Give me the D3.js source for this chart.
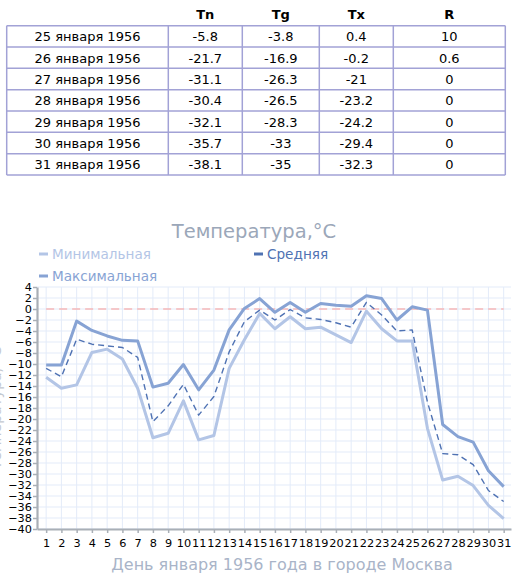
<!DOCTYPE html>
<html>
<head>
<meta charset="utf-8">
<script src="https://cdn.jsdelivr.net/npm/d3@7"></script>
<style>
  body { margin: 0; background: #fff; }
  svg { display: block; font-family: "DejaVu Sans", Verdana, sans-serif; }
</style>
</head>
<body>
<div id="chart"></div>
<script>
// ---- data ----
const days = [1,2,3,4,5,6,7,8,9,10,11,12,13,14,15,16,17,18,19,20,21,22,23,24,25,26,27,28,29,30,31];
const tMin = [-12.4,-14.4,-13.8,-7.9,-7.3,-9.1,-14.4,-23.4,-22.6,-16.7,-23.8,-23.0,-10.8,-5.6,-0.8,
              -3.6,-1.4,-3.6,-3.3,-4.7,-6.1,-0.4,-3.6,-5.8,-5.8,-21.7,-31.1,-30.4,-32.1,-35.7,-38.1];
const tMean = [-10.8,-12.3,-5.5,-6.4,-6.7,-7.0,-8.8,-20.5,-17.6,-13.7,-19.3,-15.9,-7.8,-2.3,-0.2,
               -2.0,-0.1,-1.6,-1.9,-2.5,-3.3,1.2,-1.1,-4.0,-3.8,-16.9,-26.3,-26.5,-28.3,-33,-35];
const tMax = [-10.2,-10.2,-2.2,-3.9,-4.9,-5.7,-5.8,-14.2,-13.5,-10.1,-14.7,-11.1,-3.8,0.1,1.9,
              -0.6,1.2,-0.6,1.0,0.7,0.5,2.4,1.9,-2.0,0.4,-0.2,-21,-23.2,-24.2,-29.4,-32.3];
const yTicks = [4,2,0,-2,-4,-6,-8,-10,-12,-14,-16,-18,-20,-22,-24,-26,-28,-30,-32,-34,-36,-38,-40];

// table
const tableHeaders = ["", "Tn", "Tg", "Tx", "R"];
const tableDates = ["25 января 1956","26 января 1956","27 января 1956","28 января 1956",
                    "29 января 1956","30 января 1956","31 января 1956"];
const tableDays = [25,26,27,28,29,30,31];
const precip = [10, 0.6, 0, 0, 0, 0, 0];

const W = 516, H = 578;
const svg = d3.select("#chart").append("svg")
  .attr("width", W).attr("height", H);

// ---- table ----
const colEdges = [6.7, 168.3, 242.3, 319.3, 393.3, 505.3];
const colMid = i => (colEdges[i] + colEdges[i + 1]) / 2;
const rowTop = 25.7, rowH = 21.33;
const tbl = svg.append("g");

tbl.selectAll("text.hdr")
  .data(tableHeaders)
  .enter().append("text")
  .attr("class", "hdr")
  .attr("x", (d, i) => colMid(i))
  .attr("y", 19)
  .attr("text-anchor", "middle")
  .attr("font-size", 13)
  .attr("font-weight", "bold")
  .attr("fill", "#000")
  .text(d => d);

const rows = tableDays.map((day, i) => {
  const k = days.indexOf(day);
  return [tableDates[i], tMin[k], tMean[k], tMax[k], precip[i]];
});

// borders
d3.range(rows.length + 1).forEach(r => {
  tbl.append("line")
    .attr("x1", colEdges[0]).attr("x2", colEdges[colEdges.length - 1])
    .attr("y1", rowTop + r * rowH).attr("y2", rowTop + r * rowH)
    .attr("stroke", "#a2a2d6").attr("stroke-width", 1.5);
});
colEdges.forEach(cx => {
  tbl.append("line")
    .attr("x1", cx).attr("x2", cx)
    .attr("y1", rowTop).attr("y2", rowTop + rows.length * rowH)
    .attr("stroke", "#a2a2d6").attr("stroke-width", 1.5);
});

rows.forEach((row, r) => {
  tbl.selectAll(null)
    .data(row)
    .enter().append("text")
    .attr("x", (d, i) => colMid(i))
    .attr("y", rowTop + r * rowH + 15.5)
    .attr("text-anchor", "middle")
    .attr("font-size", 13)
    .attr("fill", "#000")
    .text(d => String(d));
});

// ---- chart ----
const colorMin = "#b3c5e6";
const colorMean = "#4f72b3";
const colorMax = "#87a3d4";

const x = d3.scaleLinear().domain([0.4, 31.48]).range([37, 511]);
const y = d3.scaleLinear().domain([-40, 4]).range([529, 287]);

const g = svg.append("g");

// grid
g.selectAll("line.vgrid")
  .data(days)
  .enter().append("line")
  .attr("x1", d => x(d)).attr("x2", d => x(d))
  .attr("y1", y(4)).attr("y2", y(-40))
  .attr("stroke", "#e3ebf9").attr("stroke-width", 1);

g.selectAll("line.hgrid")
  .data(yTicks)
  .enter().append("line")
  .attr("x1", x.range()[0]).attr("x2", x.range()[1])
  .attr("y1", d => y(d)).attr("y2", d => y(d))
  .attr("stroke", "#e3ebf9").attr("stroke-width", 1);

// zero line
g.append("line")
  .attr("x1", x(days[0])).attr("x2", x(days[days.length - 1]))
  .attr("y1", y(0)).attr("y2", y(0))
  .attr("stroke", "#f6b8b8")
  .attr("stroke-width", 1.5)
  .attr("stroke-dasharray", "8,5");

// axes
const xAxis = g.append("g")
  .attr("transform", `translate(0,${y(-40)})`)
  .call(d3.axisBottom(x).tickValues(days).tickFormat(d3.format("d"))
    .tickSize(4).tickSizeOuter(0).tickPadding(6));
const yAxis = g.append("g")
  .attr("transform", `translate(${x.range()[0]},0)`)
  .call(d3.axisLeft(y).tickValues(yTicks).tickFormat(d3.format("d"))
    .tickSize(4).tickSizeOuter(0).tickPadding(1));

[xAxis, yAxis].forEach(a => {
  a.select(".domain").attr("stroke", "#a9afb6").attr("stroke-width", 2.2);
  a.selectAll(".tick line").attr("stroke", "#a9afb6").attr("stroke-width", 1.5);
  a.selectAll(".tick text")
    .attr("fill", "#000")
    .attr("font-family", "DejaVu Sans, Verdana, sans-serif");
});
xAxis.selectAll(".tick text").attr("font-size", 11.3);
yAxis.selectAll(".tick text").attr("font-size", 11.3);

// lines
function addLine(values, color, width, dash) {
  const line = d3.line()
    .x((d, i) => x(days[i]))
    .y(d => y(d));
  const p = g.append("path")
    .datum(values)
    .attr("fill", "none")
    .attr("stroke", color)
    .attr("stroke-width", width)
    .attr("stroke-linejoin", "round")
    .attr("d", line);
  if (dash) p.attr("stroke-dasharray", dash);
}
addLine(tMin, colorMin, 3);
addLine(tMax, colorMax, 3);
addLine(tMean, colorMean, 1.4, "6,4");

// title
svg.append("text")
  .attr("x", 254).attr("y", 238)
  .attr("text-anchor", "middle")
  .attr("font-size", 19.5)
  .attr("fill", "#9ba7b9")
  .text("Температура,°C");

// legend
const legendItems = [
  { label: "Минимальная", color: colorMin, x: 39, y: 254 },
  { label: "Средняя", color: colorMean, x: 254, y: 254 },
  { label: "Максимальная", color: colorMax, x: 39, y: 276 }
];
const li = svg.selectAll("g.legend")
  .data(legendItems)
  .enter().append("g")
  .attr("transform", d => `translate(${d.x},${d.y})`);
li.append("line")
  .attr("x1", 0).attr("x2", 9)
  .attr("y1", 0).attr("y2", 0)
  .attr("stroke", d => d.color)
  .attr("stroke-width", 3);
li.append("text")
  .attr("x", 13).attr("y", 5)
  .attr("font-size", 13.6)
  .attr("fill", d => d.color)
  .text(d => d.label);

// axis titles
svg.append("text")
  .attr("x", 282).attr("y", 570)
  .attr("text-anchor", "middle")
  .attr("font-size", 16)
  .attr("fill", "#a9b4c8")
  .text("День января 1956 года в городе Москва");

svg.append("text")
  .attr("transform", `translate(1,${(y(4) + y(-40)) / 2}) rotate(-90)`)
  .attr("text-anchor", "middle")
  .attr("font-size", 14)
  .attr("fill", "#c3c8d0")
  .text("Температура, °C");
</script>
</body>
</html>
